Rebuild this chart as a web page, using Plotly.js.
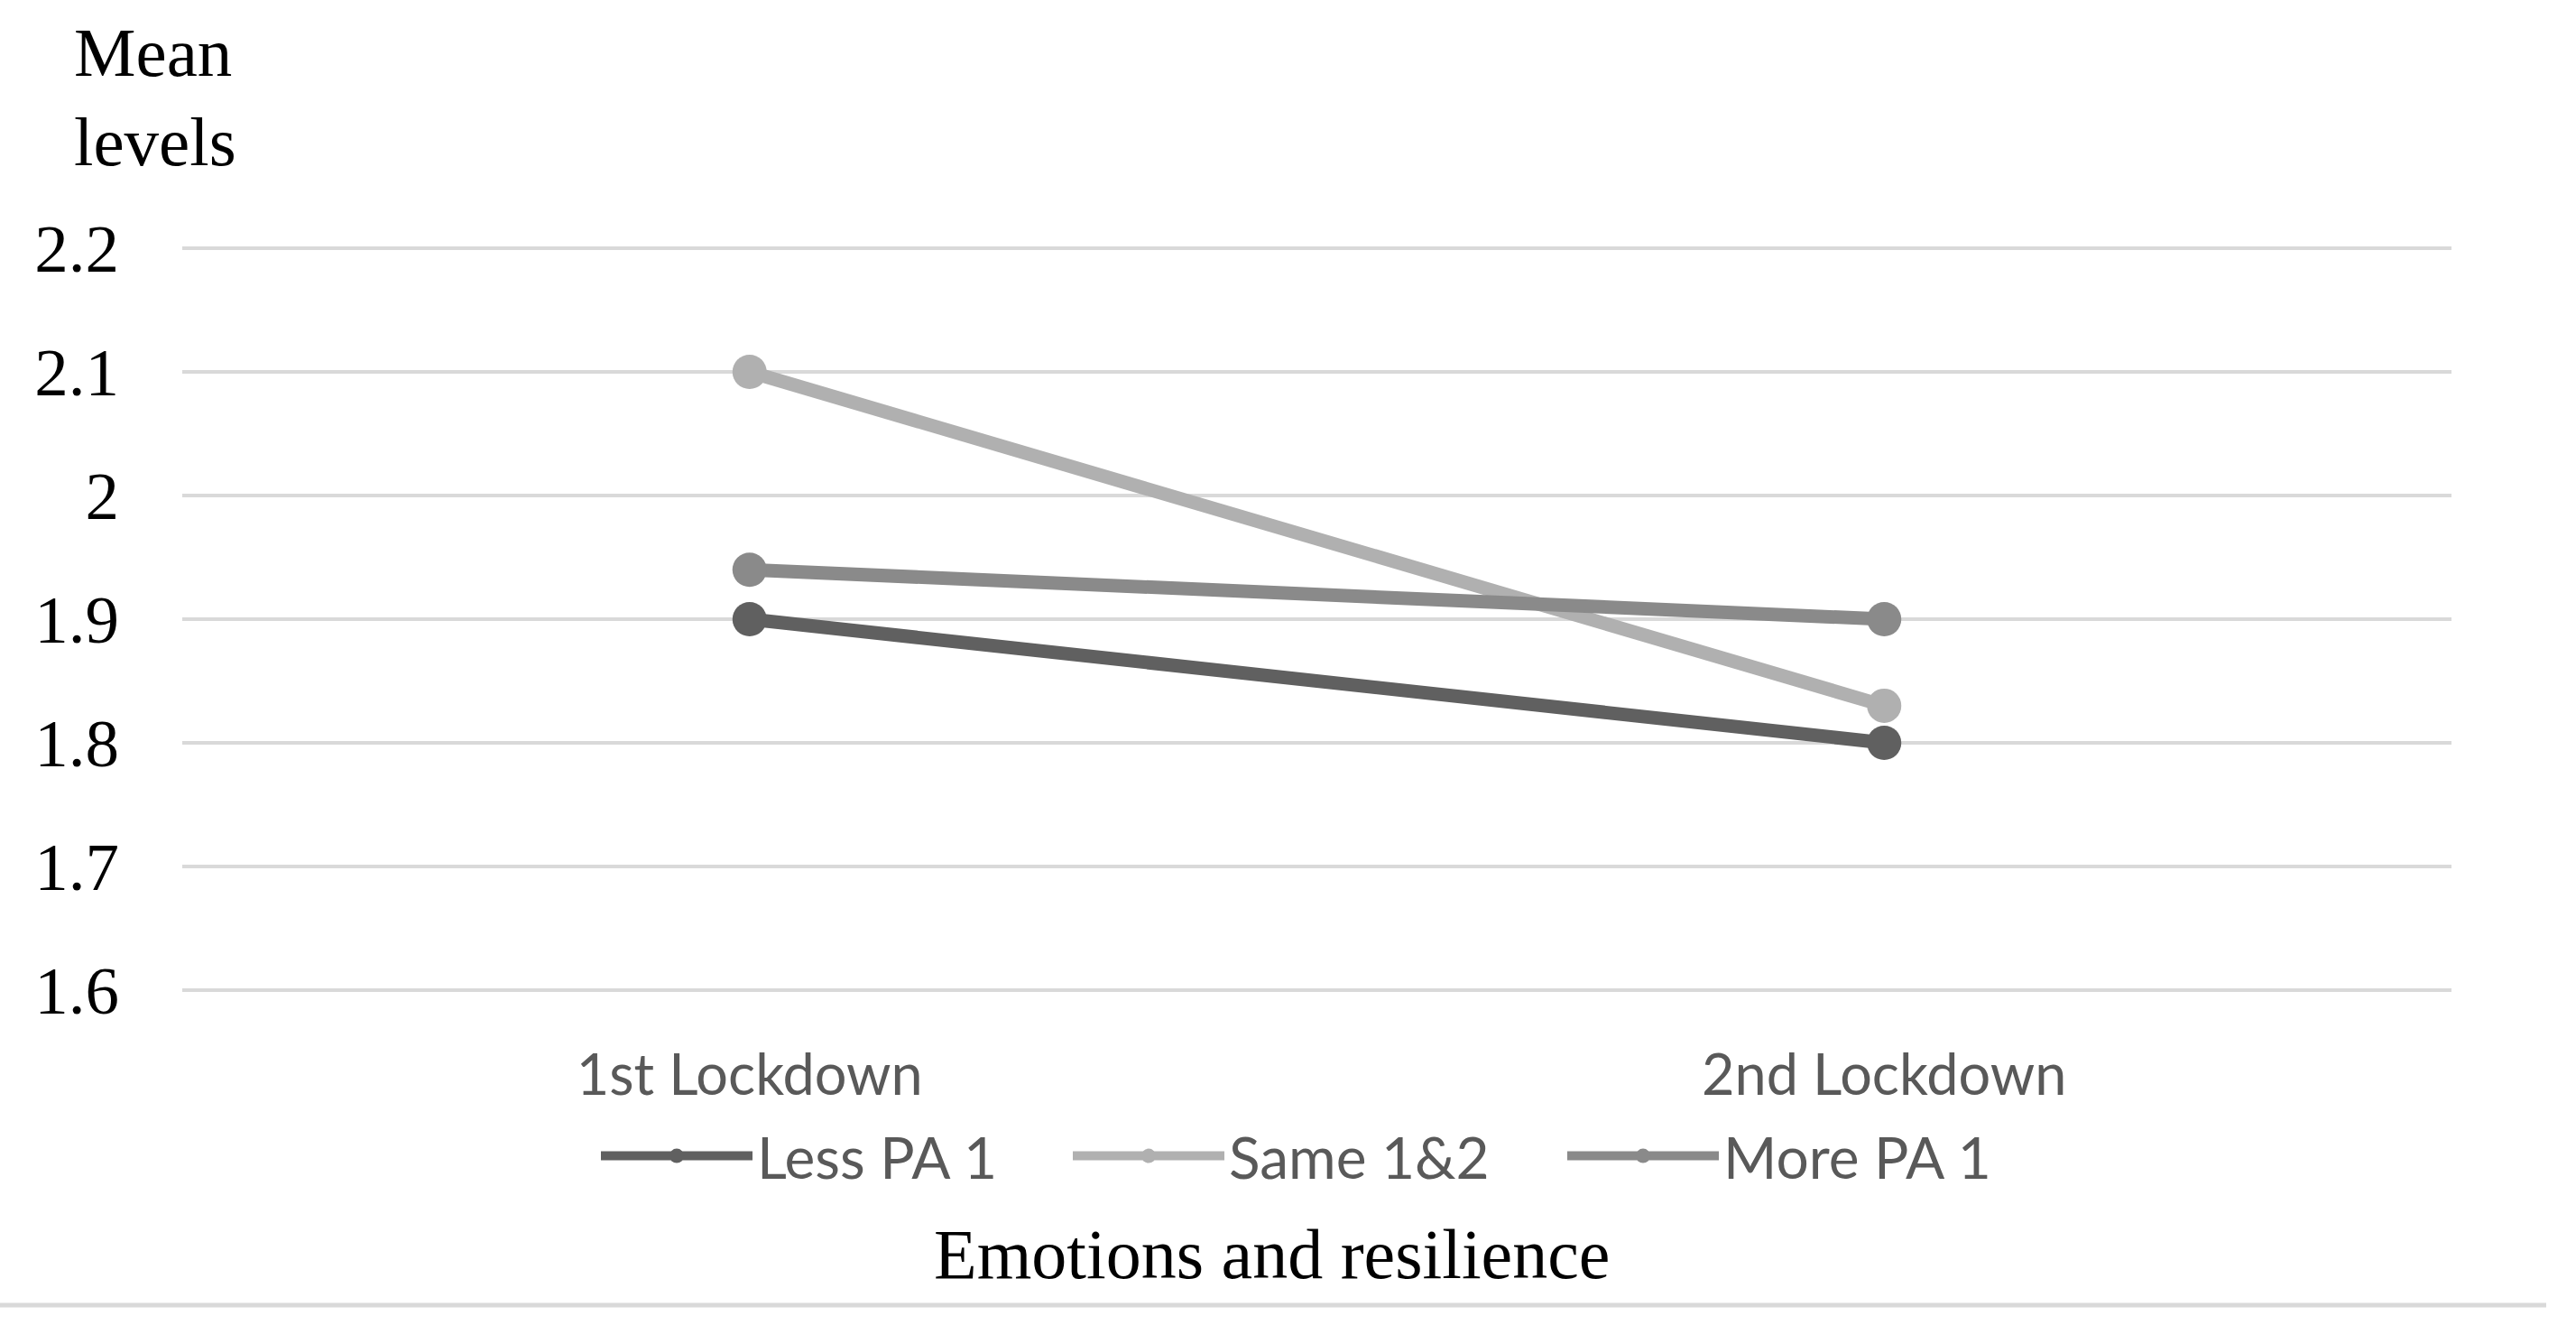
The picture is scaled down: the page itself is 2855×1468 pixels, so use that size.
<!DOCTYPE html>
<html>
<head>
<meta charset="utf-8">
<script src="https://cdn.plot.ly/plotly-3.0.1.min.js"></script>
<style>
  html, body { margin: 0; padding: 0; background: #ffffff; }
  #chart { width: 2855px; height: 1468px; }
</style>
</head>
<body>
<div id="chart"></div>
<script>
// ---- data ----
const categories = ["1st Lockdown", "2nd Lockdown"];
const seriesNames = ["Less PA 1", "Same 1&2", "More PA 1"];
const lessPA1 = [1.90, 1.80];
const same12 = [2.10, 1.83];
const morePA1 = [1.94, 1.90];
const yTickVals = [1.6, 1.7, 1.8, 1.9, 2.0, 2.1, 2.2];
const yTickText = ["1.6", "1.7", "1.8", "1.9", "2", "2.1", "2.2"];
const yAxisLabel = ["Mean", "levels"];
const xAxisLabel = "Emotions and resilience";

// ---- styling ----
const W = 2855, H = 1468;
const L = 202, R = 2717, T = 273, B = 1099;
const pw = R - L, ph = B - T;
const px2x = p => (p - L) / pw;
const py2y = p => (B - p) / ph;

const colors = ["#606060", "#b0b0b0", "#8a8a8a"];
const seriesVals = [lessPA1, same12, morePA1];
const legendIds = ["legend", "legend2", "legend3"];
const legendStartPx = [661, 1184, 1732];

const traces = seriesVals.map((vals, i) => ({
  type: "scatter",
  mode: "lines+markers",
  x: categories,
  y: vals,
  name: seriesNames[i],
  legend: legendIds[i],
  line: { color: colors[i], width: 15 },
  marker: { color: colors[i], size: 38 },
  hoverinfo: "x+y+name"
}));

const legendBase = (i) => ({
  orientation: "h",
  x: px2x(legendStartPx[i]),
  xanchor: "left",
  y: py2y(1281),
  yanchor: "middle",
  bgcolor: "rgba(0,0,0,0)",
  borderwidth: 0,
  itemwidth: 168,
  font: { family: "Lato, 'Open Sans', sans-serif", size: 64, color: "#595959" }
});

const layout = {
  width: W,
  height: H,
  margin: { l: L, r: W - R, t: T, b: H - B, pad: 0 },
  paper_bgcolor: "#ffffff",
  plot_bgcolor: "#ffffff",
  showlegend: true,
  legend: legendBase(0),
  legend2: legendBase(1),
  legend3: legendBase(2),
  xaxis: {
    type: "category",
    range: [-0.5, 1.5],
    showgrid: false,
    zeroline: false,
    showline: false,
    ticks: "",
    ticklabelstandoff: 50,
    tickfont: { family: "Lato, 'Open Sans', sans-serif", size: 63, color: "#595959" },
    fixedrange: true
  },
  yaxis: {
    range: [1.5985, 2.2015],
    tickvals: yTickVals,
    ticktext: yTickText,
    showgrid: true,
    gridcolor: "#d9d9d9",
    gridwidth: 4,
    zeroline: false,
    showline: false,
    ticks: "",
    ticklabelstandoff: 69,
    tickfont: { family: "'Liberation Serif', 'Times New Roman', serif", size: 75, color: "#000000" },
    fixedrange: true
  },
  annotations: [
    {
      text: yAxisLabel[0], xref: "paper", yref: "paper",
      x: px2x(80), y: py2y(58), xanchor: "left", yanchor: "middle",
      showarrow: false,
      font: { family: "'Liberation Serif', 'Times New Roman', serif", size: 77, color: "#000000" }
    },
    {
      text: yAxisLabel[1], xref: "paper", yref: "paper",
      x: px2x(80), y: py2y(157), xanchor: "left", yanchor: "middle",
      showarrow: false,
      font: { family: "'Liberation Serif', 'Times New Roman', serif", size: 77, color: "#000000" }
    },
    {
      text: xAxisLabel, xref: "paper", yref: "paper",
      x: px2x(1409), y: py2y(1389), xanchor: "center", yanchor: "middle",
      showarrow: false,
      font: { family: "'Liberation Serif', 'Times New Roman', serif", size: 78, color: "#000000" }
    }
  ],
  shapes: [
    {
      type: "line", xref: "paper", yref: "paper",
      x0: px2x(0), x1: px2x(2822), y0: py2y(1446), y1: py2y(1446),
      line: { color: "#d9d9d9", width: 5 }
    }
  ]
};

Plotly.newPlot("chart", traces, layout, { displayModeBar: false, responsive: false });
</script>
</body>
</html>
